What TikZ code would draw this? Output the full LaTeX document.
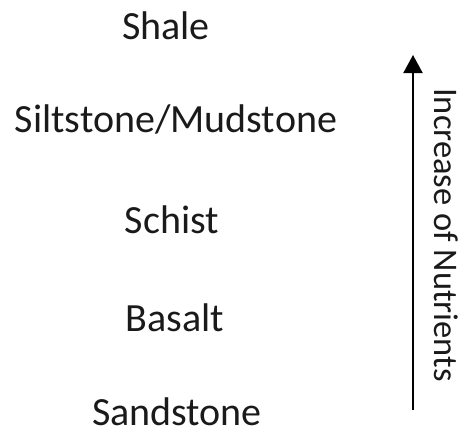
\documentclass[tikz,border=0pt]{standalone}
\usepackage{fontspec}
\setmainfont{Carlito}
\usetikzlibrary{arrows.meta}
\definecolor{txt}{HTML}{1A1A1A}
\begin{document}
\begin{tikzpicture}[x=1pt,y=-1pt,
  rock/.style={anchor=base,inner sep=0pt,text=txt,font=\fontsize{40}{48}\selectfont},
  side/.style={anchor=center,inner sep=0pt,text=txt,rotate=-90,font=\fontsize{34.5}{40}\selectfont},
  uparrow/.style={line width=2pt,-{Triangle[width=19pt,length=18pt]}}]
\useasboundingbox (0,0) rectangle (465,432);
\node[rock] (shale) at (166,39) {Shale};
\node[rock] (silt) at (176,132) {Siltstone/Mudstone};
\node[rock] (schist) at (172,233) {Schist};
\node[rock] (basalt) at (175,331) {Basalt};
\node[rock] (sand) at (177,425) {Sandstone};
\coordinate (abot) at (413,410);
\coordinate (atop) at (413,55);
\draw[uparrow] (abot) -- (atop);
\node[side] (label) at (446,235) {Increase of Nutrients};
\end{tikzpicture}
\end{document}
